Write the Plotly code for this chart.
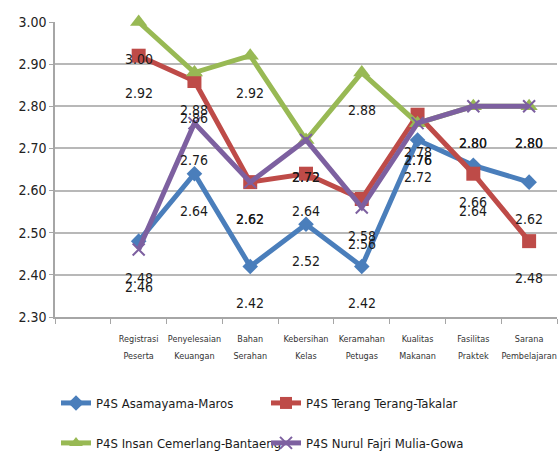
import plotly.graph_objects as go

FONT = "Liberation Sans Narrow, DejaVu Sans Condensed, Arial Narrow, sans-serif"

# kategori (first slot on the axis is an empty category, as in the original)
categories = [
    "Registrasi Peserta",
    "Penyelesaian Keuangan",
    "Bahan Serahan",
    "Kebersihan Kelas",
    "Keramahan Petugas",
    "Kualitas Makanan",
    "Fasilitas Praktek",
    "Sarana Pembelajaran",
]
blank_category = " "

asamayama = [2.48, 2.64, 2.42, 2.52, 2.42, 2.72, 2.66, 2.62]
terang = [2.92, 2.86, 2.62, 2.64, 2.58, 2.78, 2.64, 2.48]
insan = [3.00, 2.88, 2.92, 2.72, 2.88, 2.76, 2.80, 2.80]
nurul = [2.46, 2.76, 2.62, 2.72, 2.56, 2.76, 2.80, 2.80]

y_ticks = [2.30, 2.40, 2.50, 2.60, 2.70, 2.80, 2.90, 3.00]

series = [
    ("P4S Asamayama-Maros", asamayama, "#4A7EBB",
     dict(symbol="diamond", size=12), "legend"),
    ("P4S Terang Terang-Takalar", terang, "#BE4B48",
     dict(symbol="square", size=14), "legend"),
    ("P4S Insan Cemerlang-Bantaeng", insan, "#98B954",
     dict(symbol="triangle-up", size=15), "legend2"),
    ("P4S Nurul Fajri Mulia-Gowa", nurul, "#7D60A0",
     dict(symbol="x-thin", size=12, line=dict(width=2, color="#7D60A0")), "legend2"),
]


def two_lines(label):
    # small text on two widely spaced lines, like the original axis
    words = label.split(" ")
    return "<br>".join(
        f"<span style='font-size:9px'>{w}</span>" for w in words
    )


fig = go.Figure()

for name, values, color, marker, legend in series:
    fig.add_trace(
        go.Scatter(
            x=categories,
            y=values,
            name=name,
            mode="lines+markers",
            line=dict(color=color, width=5),
            marker=dict(color=color, **marker),
            cliponaxis=False,
            legend=legend,
        )
    )

# data labels sit well below each point
for name, values, color, marker, legend in series:
    for cat, val in zip(categories, values):
        fig.add_annotation(
            x=cat,
            y=val,
            text=f"{val:.2f}",
            showarrow=False,
            yshift=-37,
            font=dict(family=FONT, size=14, color="#1a1a1a"),
        )

fig.update_xaxes(
    type="category",
    categoryorder="array",
    categoryarray=[blank_category] + categories,
    range=[-0.5, len(categories) + 0.5],
    tickmode="array",
    tickvals=[blank_category] + categories,
    ticktext=[""] + [two_lines(c) for c in categories],
    tickson="boundaries",
    ticks="outside",
    ticklen=5,
    tickcolor="#a6a6a6",
    ticklabelstandoff=8,
    showline=True,
    linecolor="#a6a6a6",
    linewidth=1.5,
    showgrid=False,
    automargin=False,
    tickfont=dict(family=FONT, size=13, color="#333333"),
    tickangle=0,
)

fig.update_yaxes(
    range=[2.30, 3.00],
    tickmode="array",
    tickvals=y_ticks,
    ticktext=[f"{v:.2f}" for v in y_ticks],
    ticks="outside",
    ticklen=4,
    tickcolor="#a6a6a6",
    showline=True,
    linecolor="#a6a6a6",
    linewidth=1.5,
    showgrid=True,
    gridcolor="#b8b8b8",
    gridwidth=2,
    zeroline=False,
    automargin=False,
    tickfont=dict(family=FONT, size=14, color="#222222"),
)

legend_style = dict(
    orientation="h",
    xanchor="left",
    yanchor="middle",
    x=0.002,
    entrywidth=165,
    entrywidthmode="pixels",
    font=dict(family=FONT, size=13, color="#1a1a1a"),
    bgcolor="rgba(0,0,0,0)",
    itemsizing="constant",
)

fig.update_layout(
    width=560,
    height=455,
    paper_bgcolor="white",
    plot_bgcolor="white",
    margin=dict(l=55, r=3, t=22, b=138, autoexpand=False),
    showlegend=True,
    legend=dict(legend_style, y=-0.2915),
    legend2=dict(legend_style, y=-0.427),
)

fig.write_html(
    "out.html",
    config={"displayModeBar": False},
    post_script="document.body.style.margin='0';",
)
